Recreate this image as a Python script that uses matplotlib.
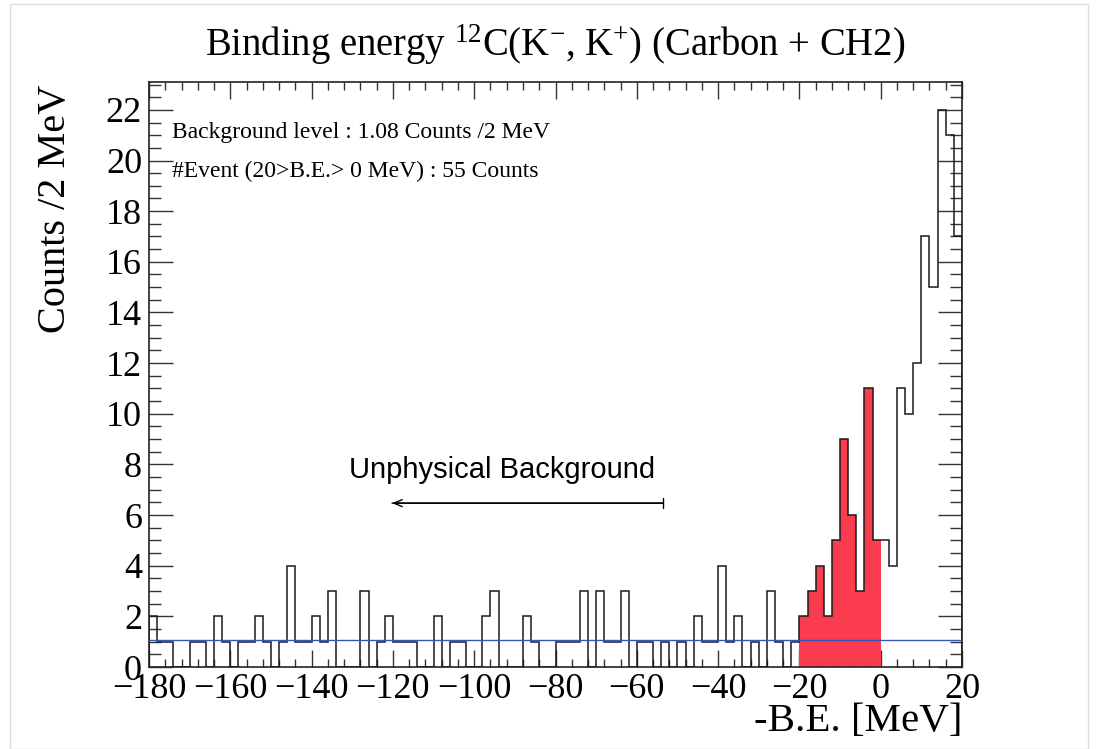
import numpy as np
import matplotlib
matplotlib.use("Agg")
import matplotlib.pyplot as plt
from matplotlib.ticker import MultipleLocator
from matplotlib.patches import Rectangle

# histogram: -B.E. from -180 to 20 MeV, 2 MeV bins
bin_lo = -180
bin_hi = 20
bin_width = 2
counts = [
    2, 1, 1, 0, 0, 1, 1, 0, 2, 1,
    0, 1, 1, 2, 1, 0, 1, 4, 1, 1,
    2, 1, 3, 0, 0, 0, 3, 0, 1, 2,
    1, 1, 1, 0, 0, 2, 0, 1, 1, 0,
    0, 2, 3, 0, 0, 0, 2, 1, 0, 0,
    1, 1, 1, 3, 0, 3, 1, 1, 3, 0,
    1, 1, 0, 1, 0, 1, 0, 2, 1, 1,
    4, 1, 2, 0, 1, 0, 3, 1, 0, 1,
    2, 3, 4, 2, 5, 9, 6, 3, 11, 5,
    5, 4, 11, 10, 12, 17, 15, 22, 21, 17,
]
signal_lo = -20      # filled region (20 > B.E. > 0)
signal_hi = 0
bg_level = 1.08

plt.rcParams["font.family"] = ["Liberation Serif", "DejaVu Serif"]
plt.rcParams["mathtext.fontset"] = "custom"
plt.rcParams["mathtext.rm"] = "Liberation Serif"
plt.rcParams["mathtext.it"] = "Liberation Serif:italic"

fig = plt.figure(figsize=(10.98, 7.49), dpi=100)
W, H = 1098, 749
ax = fig.add_axes([149 / W, 1 - 667 / H, 813 / W, 585 / H])

edges = np.arange(bin_lo, bin_hi + bin_width, bin_width)
vals = np.array(counts, dtype=float)

# red filled signal region
sel = (edges[:-1] >= signal_lo) & (edges[:-1] < signal_hi)
sig_edges = edges[np.r_[sel, False] | np.r_[False, sel]]
ax.stairs(vals[sel], sig_edges, fill=True, color="#fb3c4e", zorder=2)

# outline of full histogram
ax.stairs(vals, edges, color="#1a1a1a", lw=1.1, zorder=3)

# background level line
ax.axhline(bg_level, color="#3358b5", lw=1.0, zorder=4)

ax.set_xlim(bin_lo, bin_hi)
ax.set_ylim(0, 23.1)

ax.xaxis.set_major_locator(MultipleLocator(20))
ax.xaxis.set_minor_locator(MultipleLocator(4))
ax.yaxis.set_major_locator(MultipleLocator(2))
ax.yaxis.set_minor_locator(MultipleLocator(0.5))
ax.tick_params(axis="both", which="both", direction="in", top=True, right=True,
               width=1.0, color="#333333")
ax.tick_params(axis="y", which="major", length=17, labelsize=26, pad=5)
ax.tick_params(axis="y", which="minor", length=8.5)
ax.tick_params(axis="x", which="major", length=12, labelsize=26, pad=4)
ax.tick_params(axis="x", which="minor", length=6)
for s in ax.spines.values():
    s.set_linewidth(1.2)
    s.set_color("#222222")

# texts
ax.text(-174.3, 21.1, "Background level : 1.08 Counts /2 MeV", fontsize=17,
        ha="left", va="center")
ax.text(-174.3, 19.55, "#Event (20>B.E.> 0 MeV) : 55 Counts", fontsize=17,
        ha="left", va="center")
ax.text(-93.2, 7.77, "Unphysical Background", fontsize=21, ha="center",
        va="center", family=["Liberation Sans", "DejaVu Sans"])
ax.annotate("", xy=(-120.2, 6.47), xytext=(-53.6, 6.47),
            arrowprops=dict(arrowstyle="]-, widthA=0.35, lengthA=0", color="black",
                            lw=1.0, shrinkA=0, shrinkB=0))
ax.annotate("", xy=(-120.2, 6.47), xytext=(-53.6, 6.47),
            arrowprops=dict(arrowstyle="->, head_length=0.6, head_width=0.25",
                            color="black", lw=1.0, shrinkA=0, shrinkB=0))

fig.text(555 / W, 1 - 45 / H,
         r"Binding energy $^{12}$C(K$^{-}$, K$^{+}$) (Carbon + CH2)",
         fontsize=27.8, ha="center", va="center")
fig.text(55 / W, 1 - 85 / H, "Counts /2 MeV", fontsize=29, rotation=90,
         ha="center", va="top")
fig.text(962 / W, 1 - 722 / H, "-B.E. [MeV]", fontsize=29.5, ha="right", va="center")

# light screenshot border
fig.patches.append(Rectangle((10 / W, 0), (W - 20) / W, 1 - 4 / H,
                             transform=fig.transFigure, fill=False,
                             edgecolor="#dddddd", lw=1.0))

fig.savefig("out.png", dpi=100)
